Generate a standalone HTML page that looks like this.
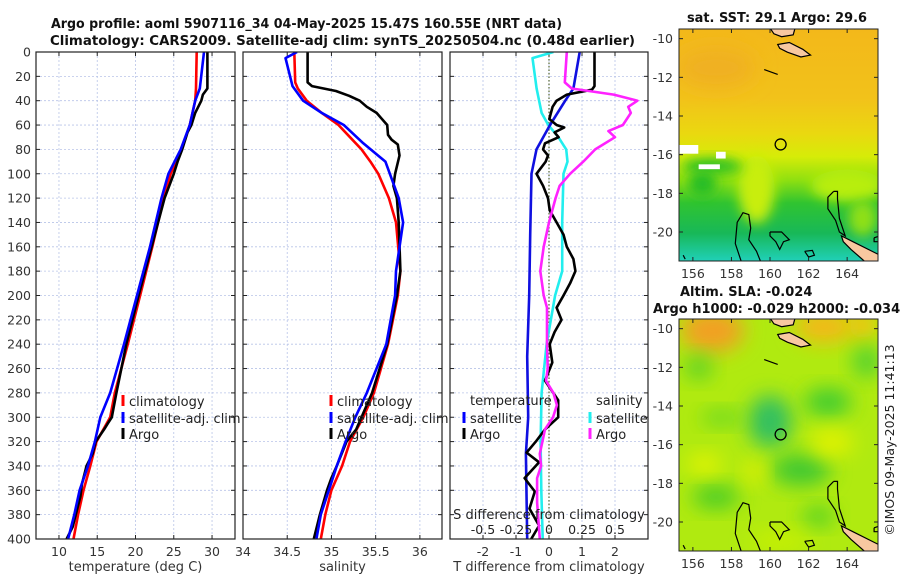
<!DOCTYPE html>
<html><head><meta charset="utf-8">
<style>
body{margin:0;background:#fff;width:900px;height:580px;overflow:hidden;font-family:"Liberation Sans","DejaVu Sans",sans-serif;}
svg text{font-family:"DejaVu Sans","Liberation Sans",sans-serif;}
</style></head>
<body>
<svg id="fig" width="900" height="580" viewBox="0 0 900 580" xmlns="http://www.w3.org/2000/svg">
<defs>
<filter id="blur6" x="-50%" y="-50%" width="200%" height="200%"><feGaussianBlur stdDeviation="6"/></filter>
<filter id="blur10" x="-50%" y="-50%" width="200%" height="200%"><feGaussianBlur stdDeviation="10"/></filter>
<linearGradient id="sstGrad" x1="0" y1="0" x2="0" y2="1">
<stop offset="0" stop-color="#f3b81a"/><stop offset="0.3" stop-color="#f2c21a"/>
<stop offset="0.45" stop-color="#ead810"/><stop offset="0.55" stop-color="#d6ec08"/>
<stop offset="0.65" stop-color="#90e010"/><stop offset="0.75" stop-color="#30c430"/>
<stop offset="0.88" stop-color="#18b858"/><stop offset="1" stop-color="#20d0b8"/>
</linearGradient>
<clipPath id="clipSst"><rect x="679" y="29" width="199" height="232"/></clipPath>
<clipPath id="clipSla"><rect x="679" y="319" width="199" height="232"/></clipPath>
<clipPath id="clipP1"><rect x="36" y="52" width="199" height="487"/></clipPath>
<clipPath id="clipP2"><rect x="243" y="52" width="199" height="487"/></clipPath>
<clipPath id="clipP3"><rect x="450" y="52" width="198" height="487"/></clipPath>
</defs>
<g font-weight="bold" font-size="13" fill="#111" text-anchor="start">
<text x="51" y="28" textLength="511" lengthAdjust="spacingAndGlyphs">Argo profile: aoml 5907116_34 04-May-2025 15.47S 160.55E (NRT data)</text>
<text x="50" y="45" textLength="585" lengthAdjust="spacingAndGlyphs">Climatology: CARS2009. Satellite-adj clim: synTS_20250504.nc (0.48d earlier)</text>
<text x="687" y="22" textLength="180" lengthAdjust="spacingAndGlyphs">sat. SST: 29.1 Argo: 29.6</text>
<text x="680" y="296">Altim. SLA: -0.024</text>
<text x="653" y="313">Argo h1000: -0.029 h2000: -0.034</text>
</g>
<g id="panels"></g>
<g id="maps"></g>
<text transform="translate(894,440) rotate(-90)" text-anchor="middle" font-size="12.5" fill="#222">©IMOS 09-May-2025 11:41:13</text>
</svg>
<script>
// ---------- data ----------
const depthTicks=[0,20,40,60,80,100,120,140,160,180,200,220,240,260,280,300,320,340,360,380,400];
const tempTicks=[10,15,20,25,30];
const salTicks=[34,34.5,35,35.5,36];
const salTickLabels=["34","34.5","35","35.5","36"];
const tdiffTicks=[-2,-1,0,1,2];
const sdiffTicks=[-0.5,-0.25,0,0.25,0.5];
const sdiffTickLabels=["-0.5","-0.25","0","0.25","0.5"];

const tClimDepth=[0,30,40,60,80,100,120,160,200,240,280,300,320,340,360,380,400];
const tClim=[28.0,27.9,27.8,27.1,26.0,24.6,23.7,22.2,20.6,19.0,17.3,16.7,14.9,14.1,13.2,12.5,11.9];
const tSatDepth=[0,30,40,60,80,100,120,160,200,240,280,300,320,340,360,380,400];
const tSat=[28.95,28.4,27.8,27.1,25.9,24.3,23.4,21.9,20.2,18.5,16.7,15.4,14.7,13.8,12.7,12.0,11.2];
const tArgoDepth=[0,30,35,40,50,60,66,70,80,90,100,120,160,200,240,280,300,305,310,320,330,340,345,355,365,375,390,400];
const tArgo=[29.4,29.4,28.8,28.6,27.8,27.3,26.8,26.6,26.1,25.5,25.0,23.8,22.1,20.4,18.8,17.5,16.9,16.4,15.9,14.8,14.4,13.6,13.4,13.0,12.8,12.4,11.8,11.0];

const sClimDepth=[0,25,30,40,50,60,70,80,90,100,120,140,180,200,240,280,300,320,340,360,380,400];
const sClim=[34.58,34.59,34.62,34.72,34.89,35.08,35.21,35.34,35.44,35.53,35.65,35.73,35.78,35.75,35.64,35.48,35.36,35.21,35.12,35.0,34.93,34.88];
const sSatDepth=[0,5,28,40,50,60,75,90,120,140,180,200,240,280,300,320,340,360,380,400];
const sSat=[34.61,34.48,34.56,34.68,34.89,35.14,35.36,35.61,35.76,35.81,35.73,35.72,35.62,35.40,35.27,35.16,35.06,34.97,34.88,34.83];
const sArgoDepth=[0,25,28,32,36,40,45,50,60,68,72,76,85,100,110,120,140,180,200,240,280,300,310,320,340,350,360,380,400];
const sArgo=[34.73,34.73,34.78,35.05,35.2,35.32,35.40,35.51,35.63,35.64,35.68,35.75,35.77,35.72,35.70,35.74,35.76,35.78,35.74,35.63,35.46,35.34,35.28,35.17,35.06,35.0,34.95,34.87,34.80];

const dtSatDepth=[0,30,40,60,80,100,150,200,250,300,330,400];
const dtSat=[0.93,0.74,0.49,0.03,-0.38,-0.53,-0.57,-0.6,-0.66,-0.63,-0.7,-0.66];
const dsSatDepth=[0,5,30,50,60,70,80,90,100,140,180,200,240,280,320,360,400];
const dsSat=[0.033,-0.125,-0.094,-0.056,-0.005,0.071,0.13,0.14,0.11,0.1,0.1,0.046,-0.018,-0.056,-0.064,-0.058,-0.048];
const dtArgoDepth=[0,28,31,35,40,45,55,60,62,66,70,75,80,85,90,100,110,120,130,140,150,160,170,180,190,200,210,220,230,240,255,270,286,300,310,320,329,337,350,361,375,389,400];
const dtArgo=[1.38,1.38,1.3,0.54,0.23,0.11,0.01,0.23,0.46,0.17,0.29,-0.12,-0.18,-0.03,-0.1,-0.38,-0.18,-0.03,0.02,0.23,0.44,0.54,0.74,0.8,0.64,0.44,0.23,0.38,0.17,0.02,0.1,-0.12,0.28,0.28,-0.12,-0.4,-0.68,-0.3,-0.74,-0.43,-0.59,-0.3,-0.54];
const dsArgoDepth=[0,25,30,35,40,45,50,60,65,70,80,90,100,110,120,140,160,180,200,210,240,260,270,280,290,300,310,320,330,340,350,370,400];
const dsArgo=[0.135,0.12,0.173,0.49,0.67,0.6,0.62,0.56,0.45,0.5,0.35,0.26,0.16,0.08,0.05,0.0,-0.04,-0.066,-0.04,-0.015,-0.015,-0.01,-0.023,0.033,0.06,0.03,-0.03,-0.05,-0.07,-0.06,-0.09,-0.09,-0.07];

// ---------- helpers ----------
const NS="http://www.w3.org/2000/svg";
function mk(tag,attrs,parent){const e=document.createElementNS(NS,tag);for(const k in attrs)e.setAttribute(k,attrs[k]);parent.appendChild(e);return e;}
const yTop=52,yBot=539;
function yD(d){return yTop+(d/400)*(yBot-yTop);}
function linScale(d0,d1,r0,r1){return v=>r0+(v-d0)/(d1-d0)*(r1-r0);}
const panelsG=document.getElementById('panels');

function drawPanel(name,x0,x1,xs,ticks,labels,xlabel,clip){
  const g=mk('g',{},panelsG);
  
  
  mk('rect',{x:x0,y:yTop,width:x1-x0,height:yBot-yTop,fill:'#fff'},g);
  ticks.forEach(t=>{const x=xs(t);mk('line',{x1:x,x2:x,y1:yTop,y2:yBot,stroke:'#b8c4e8','stroke-width':0.8,'stroke-dasharray':'2,2'},g);});
  depthTicks.forEach(d=>{const y=yD(d);mk('line',{x1:x0,x2:x1,y1:y,y2:y,stroke:'#b8c4e8','stroke-width':0.8,'stroke-dasharray':'2,2'},g);
    mk('line',{x1:x0,x2:x0+4,y1:y,y2:y,stroke:'#222'},g);mk('line',{x1:x1-4,x2:x1,y1:y,y2:y,stroke:'#222'},g);});
  ticks.forEach((t,i)=>{const x=xs(t);mk('line',{x1:x,x2:x,y1:yBot-4,y2:yBot,stroke:'#222'},g);mk('line',{x1:x,x2:x,y1:yTop,y2:yTop+4,stroke:'#222'},g);
    if(labels){const tx=mk('text',{x:x,y:556,'font-size':12.5,fill:'#333','text-anchor':'middle'},g);tx.textContent=labels[i];
      
      }});
  const xl=mk('text',{x:(x0+x1)/2,y:571,'font-size':13,fill:'#333','text-anchor':'middle'},g);xl.textContent=xlabel;
  
  
  const dg=mk('g',{'clip-path':'url(#'+clip+')'},g);
  return {g,dg};
}
function line(parent,depths,vals,xs,color,name,w){
  const p=mk('path',{d:depths.map((d,i)=>(i?'L':'M')+xs(vals[i]).toFixed(1)+','+yD(d).toFixed(1)).join(''),fill:'none',stroke:color,'stroke-width':w||2.6,'stroke-linejoin':'round'},parent);
  
  
}
function frame(g,x0,x1){mk('rect',{x:x0,y:yTop,width:x1-x0,height:yBot-yTop,fill:'none',stroke:'#222','stroke-width':1.2},g);}
function legendItem(g,x,y,color,label,name){
  mk('rect',{x:x-1.5,y:y-6,width:3,height:11,fill:color},g);
  const t=mk('text',{x:x+6,y:y+5,'font-size':13,fill:'#222'},g);t.textContent=label;
  
  
}

// Panel 1: temperature
const xT=linScale(7,33,36,235);
const P1=drawPanel('temperature-panel',36,235,xT,tempTicks,tempTicks.map(String),'temperature (deg C)','clipP1');
line(P1.dg,tClimDepth,tClim,xT,'#f00','temp-climatology-line');
line(P1.dg,tArgoDepth,tArgo,xT,'#000','temp-argo-line');
line(P1.dg,tSatDepth,tSat,xT,'#0000ff','temp-satellite-line');
frame(P1.g,36,235);
depthTicks.forEach(d=>{const t=mk('text',{x:31,y:yD(d)+4.5,'font-size':12.5,fill:'#333','text-anchor':'end'},P1.g);t.textContent=d;
  
  });
legendItem(P1.g,123,401,'#f00','climatology','legend-climatology');
legendItem(P1.g,123,418,'#00f','satellite-adj. clim','legend-satellite-adj');
legendItem(P1.g,123,434,'#000','Argo','legend-argo');

// Panel 2: salinity
const xS=linScale(34,36.25,243,442);
const P2=drawPanel('salinity-panel',243,442,xS,salTicks,salTickLabels,'salinity','clipP2');
line(P2.dg,sClimDepth,sClim,xS,'#f00','sal-climatology-line');
line(P2.dg,sArgoDepth,sArgo,xS,'#000','sal-argo-line');
line(P2.dg,sSatDepth,sSat,xS,'#0000ff','sal-satellite-line');
frame(P2.g,243,442);
legendItem(P2.g,331,401,'#f00','climatology','legend-climatology-2');
legendItem(P2.g,331,418,'#00f','satellite-adj. clim','legend-satellite-adj-2');
legendItem(P2.g,331,434,'#000','Argo','legend-argo-2');

// Panel 3: differences
const xDT=linScale(-3,3,450,648);
const xDS=linScale(-0.75,0.75,450,648);
const P3=drawPanel('difference-panel',450,648,xDT,tdiffTicks,tdiffTicks.map(String),'T difference from climatology','clipP3');
mk('line',{x1:xDT(0),x2:xDT(0),y1:yTop,y2:yBot,stroke:'#556633','stroke-width':1.2,'stroke-dasharray':'1.5,2'},P3.dg);
line(P3.dg,dsSatDepth,dsSat,xDS,'#22eeee','sdiff-satellite-line');
line(P3.dg,dtSatDepth,dtSat,xDT,'#1010e0','tdiff-satellite-line');
line(P3.dg,dtArgoDepth,dtArgo,xDT,'#000','tdiff-argo-line');
line(P3.dg,dsArgoDepth,dsArgo,xDS,'#ff22ff','sdiff-argo-line');
frame(P3.g,450,648);
{const t=mk('text',{x:470,y:405,'font-size':13,fill:'#222'},P3.g);t.textContent='temperature';


const t2=mk('text',{x:596,y:405,'font-size':13,fill:'#222'},P3.g);t2.textContent='salinity';

}
legendItem(P3.g,464,418,'#00f','satellite','legend-t-satellite');
legendItem(P3.g,464,434,'#000','Argo','legend-t-argo');
legendItem(P3.g,590,418,'#22eeee','satellite','legend-s-satellite');
legendItem(P3.g,590,434,'#ff22ff','Argo','legend-s-argo');
{const t=mk('text',{x:549,y:519,'font-size':13,fill:'#222','text-anchor':'middle'},P3.g);t.textContent='S difference from climatology';


sdiffTicks.forEach((s,i)=>{const tx=mk('text',{x:xDS(s),y:534,'font-size':12.5,fill:'#222','text-anchor':'middle'},P3.g);tx.textContent=sdiffTickLabels[i];

});}

// ---------- maps ----------
const mapsG=document.getElementById('maps');
const lonTicks=[156,158,160,162,164];
const latTicks=[-10,-12,-14,-16,-18,-20];
const floatLon=160.55, floatLat=-15.47;
const landShapes=[
 [[160,-9.45],[161.3,-9.45],[161.2,-9.8],[160.6,-9.9],[160.2,-9.75]],
 [[160.4,-10.3],[161.0,-10.2],[161.7,-10.55],[162.1,-10.85],[161.6,-10.95],[160.9,-10.7],[160.5,-10.5]],
 [[163.7,-20.2],[164.3,-20.5],[165.7,-21.2],[165.7,-21.6],[165.0,-21.6],[164.2,-20.9],[163.8,-20.5]]
];
const contours=[
 [[158.5,-21.5],[158.2,-20.6],[158.3,-19.5],[158.6,-19.0],[158.9,-19.1],[159.0,-19.8],[158.9,-20.4],[159.3,-21.0],[159.5,-21.5]],
 [[163.3,-17.9],[163.0,-18.2],[163.0,-18.8],[163.4,-19.4],[163.6,-20.0],[163.9,-20.2],[163.6,-19.3],[163.5,-18.3],[163.5,-17.9],[163.3,-17.9]],
 [[160.0,-20.0],[160.6,-20.0],[161.0,-20.4],[160.7,-20.5],[160.5,-20.9],[160.3,-20.5],[160.0,-20.2],[160.0,-20.0]],
 [[161.8,-21.0],[162.2,-20.95],[162.3,-21.2],[162.0,-21.3],[161.8,-21.0]],
 [[159.7,-11.6],[160.4,-11.85]],
 [[165.4,-20.3],[165.7,-20.2],[165.7,-20.5],[165.4,-20.5],[165.4,-20.3]],
 [[155.5,-21.2],[155.6,-21.4]]
];
function drawMap(name,y0,blobs,useGrad){
  const x0=679,x1=878,y1=y0+232;
  const lx=linScale(155.28,165.6,x0,x1), ly=linScale(-9.5,-21.5,y0,y1);
  const g=mk('g',{},mapsG);
  
  
  const cg=mk('g',{'clip-path':'url(#'+(useGrad?'clipSst':'clipSla')+')'},g);
  mk('rect',{x:x0,y:y0,width:x1-x0,height:y1-y0,fill:useGrad?'url(#sstGrad)':'#b0ea10'},cg);
  blobs.forEach(b=>mk('ellipse',{cx:lx(b[0]),cy:ly(b[1]),rx:b[2],ry:b[3],fill:b[4],filter:'url(#blur'+(b[5]||10)+')'},cg));
  if(useGrad){
    [[155.28,-15.5,1.0,0.45],[157.2,-15.85,0.5,0.35],[156.3,-16.5,1.1,0.25]].forEach(r=>mk('rect',{x:lx(r[0]),y:ly(r[1]),width:lx(r[0]+r[2])-lx(r[0]),height:ly(r[1]-r[3])-ly(r[1]),fill:'#fff'},cg));
  }
  landShapes.forEach(s=>mk('path',{d:s.map((p,i)=>(i?'L':'M')+lx(p[0]).toFixed(1)+','+ly(p[1]).toFixed(1)).join('')+'Z',fill:'#f8c8a0',stroke:'#000','stroke-width':1.2},cg));
  contours.forEach(s=>mk('path',{d:s.map((p,i)=>(i?'L':'M')+lx(p[0]).toFixed(1)+','+ly(p[1]).toFixed(1)).join(''),fill:'none',stroke:'#000','stroke-width':1.2},cg));
  const c=mk('circle',{cx:lx(floatLon),cy:ly(floatLat),r:5.5,fill:'none',stroke:'#000','stroke-width':1.3},g);
  
  
  mk('rect',{x:x0,y:y0,width:x1-x0,height:y1-y0,fill:'none',stroke:'#222','stroke-width':1},g);
  latTicks.forEach(l=>{const y=ly(l);mk('line',{x1:x0,x2:x0+4,y1:y,y2:y,stroke:'#222'},g);mk('line',{x1:x1-4,x2:x1,y1:y,y2:y,stroke:'#222'},g);
    const t=mk('text',{x:673,y:y+4.5,'font-size':12.5,fill:'#333','text-anchor':'end'},g);t.textContent=l;
    
    });
  lonTicks.forEach(l=>{const x=lx(l);mk('line',{x1:x,x2:x,y1:y1-4,y2:y1,stroke:'#222'},g);mk('line',{x1:x,x2:x,y1:y0,y2:y0+4,stroke:'#222'},g);
    const t=mk('text',{x:x,y:y1+17,'font-size':12.5,fill:'#333','text-anchor':'middle'},g);t.textContent=l;
    
    });
}
drawMap('sst-map',29,[
 [159.3,-17.8,18,34,'#c8ee10',6],[164.0,-17.6,36,16,'#b8ee10',6],[164.8,-19.3,14,18,'#90e018',6],
 [157.0,-16.6,30,8,'#28c028',6],[156.5,-17.5,14,12,'#20bc28',6],[157.2,-11.5,40,20,'#f0b020',10]
],true);
drawMap('sla-map',319,[
 [157.0,-10.1,32,22,'#f2a020'],[162.8,-9.9,30,16,'#f4b818'],[164.8,-9.8,14,14,'#f6c010'],
 [160.0,-14.8,22,26,'#30c060'],[163.0,-13.8,24,14,'#40cc30'],[165.0,-11.7,14,16,'#50d030'],
 [156.3,-12.0,14,12,'#58d028'],[161.6,-17.3,30,16,'#40c830'],[157.2,-18.7,24,12,'#48cc28'],
 [162.5,-19.7,16,10,'#50d028'],[157.5,-14.6,22,8,'#68d820'],
 [156.6,-17.0,18,10,'#e4f400'],[163.2,-15.9,22,14,'#e0f200'],[159.2,-17.4,10,12,'#e0f000'],[160.5,-21,30,10,'#c8f000']
],false);
</script>
</body></html>
